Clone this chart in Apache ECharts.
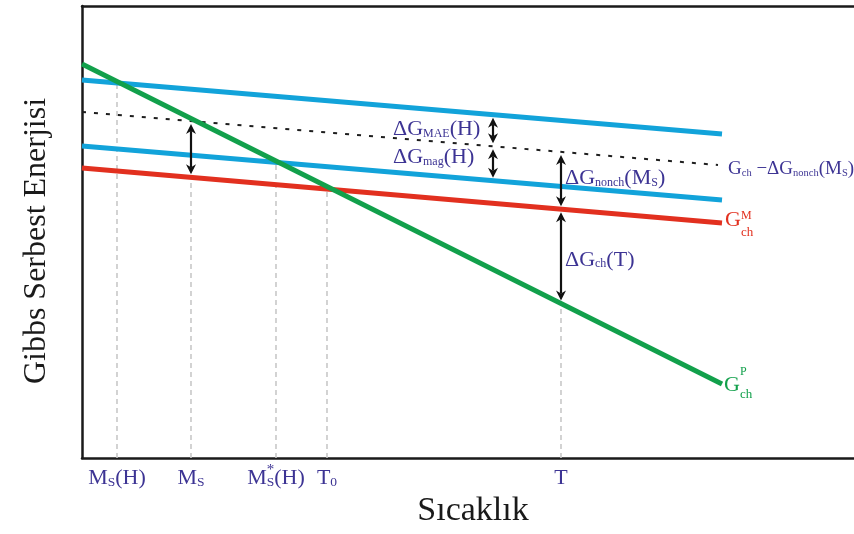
<!DOCTYPE html>
<html>
<head>
<meta charset="utf-8">
<script src="https://cdn.jsdelivr.net/npm/echarts@6/dist/echarts.min.js"></script>
<style>
  html, body { margin: 0; padding: 0; background: #ffffff; }
  #chart { width: 854px; height: 534px; }
</style>
</head>
<body>
<div id="chart"></div>
<script>
// Axis ranges (arbitrary units for temperature and Gibbs free energy)
const tempRange = [0, 772];
const energyRange = [0, 452];

// Free-energy curves, each given by its two end points [T, G]
const gMagH = [[0, 378], [640, 324]];        // G_ch − ΔG_mag(H) − ΔG_MAE(H)
const gNonch = [[0, 346], [636, 293]];       // G_ch − ΔG_nonch(M_S)
const gMag = [[0, 312], [640, 258]];         // G_ch − ΔG_mag(H)
const gMartensite = [[0, 290], [640, 235]];  // G_ch^M
const gParent = [[0, 394], [640, 74]];       // G_ch^P

// Characteristic temperatures on the T axis
const tempTicks = [35, 109, 194, 245, 479];
const tempTickLabels = ['M_{S}(H)', 'M_{S}', 'M^{*}_{S}(H)', 'T_{0}', 'T'];

// Texts (markup: _{} subscript, ^{} superscript, ^{}_{} stacked)
const axisNameT = 'Sıcaklık';
const axisNameG = 'Gibbs Serbest Enerjisi';
const labelMAE = 'ΔG_{MAE}(H)';
const labelMag = 'ΔG_{mag}(H)';
const labelNonch = 'ΔG_{nonch}(M_{S})';
const labelChT = 'ΔG_{ch}(T)';
const labelNonchCurve = 'G_{ch} −ΔG_{nonch}(M_{S})';
const labelMartensite = 'G^{M}_{ch}';
const labelParent = 'G^{P}_{ch}';

const BLUE = '#12a3da';
const RED = '#e2301f';
const GREEN = '#12a04b';
const INK = '#3d3494';
const FONT = '"Liberation Serif", "Times New Roman", serif';

function lineAt(curve, t) {
  const [[x0, y0], [x1, y1]] = curve;
  return y0 + (y1 - y0) * (t - x0) / (x1 - x0);
}

// each guide rises from the T axis up to the curve it refers to
const guideCurves = [gMagH, gMartensite, gMag, gMartensite, gParent];
const guides = tempTicks.map((t, i) => [t, lineAt(guideCurves[i], t)]);

// double arrows: [T, curve A, curve B]
const tMAE = 411;
const arrowSpans = [
  [tempTicks[1], gNonch, gMartensite],
  [tMAE, gMagH, gNonch],
  [tMAE, gNonch, gMag],
  [tempTicks[4], gNonch, gMartensite],
  [tempTicks[4], gMartensite, gParent]
];
const arrows = arrowSpans.map(([t, a, b]) => [t, lineAt(a, t), lineAt(b, t)]);

const chart = echarts.init(document.getElementById('chart'), null, { renderer: 'canvas' });

function curveSeries(name, data, color, width, type, z) {
  return {
    name, type: 'line', data, showSymbol: false, symbol: 'none', silent: true, z,
    lineStyle: { color, width, type, cap: 'butt' }, animation: false
  };
}

const frameLine = { show: true, onZero: false, lineStyle: { color: '#1a1a1a', width: 2.5 } };

const option = {
  backgroundColor: '#ffffff',
  animation: false,
  grid: { left: 82, right: 0, top: 6, bottom: 76 },
  xAxis: [
    { type: 'value', min: tempRange[0], max: tempRange[1], position: 'bottom',
      axisLine: frameLine, axisTick: { show: false }, axisLabel: { show: false }, splitLine: { show: false } },
    { type: 'value', min: tempRange[0], max: tempRange[1], position: 'top',
      axisLine: frameLine, axisTick: { show: false }, axisLabel: { show: false }, splitLine: { show: false } }
  ],
  yAxis: {
    type: 'value', min: energyRange[0], max: energyRange[1],
    axisLine: frameLine, axisTick: { show: false }, axisLabel: { show: false }, splitLine: { show: false }
  },
  series: [
    {
      type: 'custom', name: 'guides', silent: true, z: 1, data: guides,
      encode: { x: 0, y: 1 },
      renderItem(params, api) {
        const p0 = api.coord([api.value(0), 0]);
        const p1 = api.coord([api.value(0), api.value(1)]);
        return {
          type: 'line',
          shape: { x1: p0[0], y1: p0[1], x2: p1[0], y2: p1[1] },
          style: { stroke: '#c8c8c8', lineWidth: 1.6, lineDash: [5, 4] }
        };
      }
    },
    curveSeries('magH', gMagH, BLUE, 5, 'solid', 2),
    curveSeries('mag', gMag, BLUE, 5, 'solid', 2),
    curveSeries('martensite', gMartensite, RED, 5, 'solid', 3),
    curveSeries('nonch', gNonch, '#1e1e1e', 2, [4, 8], 3),
    curveSeries('parent', gParent, GREEN, 5, 'solid', 4),
    {
      type: 'custom', name: 'arrows', silent: true, z: 5, data: arrows,
      encode: { x: 0, y: [1, 2] },
      renderItem(params, api) {
        const a = api.coord([api.value(0), api.value(1)]);
        const b = api.coord([api.value(0), api.value(2)]);
        const x = a[0];
        const d = Math.sign(b[1] - a[1]) || 1;
        const inset = 3, L = 10, W = 5, N = 7;
        const tipA = a[1] + d * inset;
        const tipB = b[1] - d * inset;
        const head = (tip, dir) => ({
          type: 'polygon',
          shape: { points: [[x, tip], [x - W, tip + dir * L], [x, tip + dir * N], [x + W, tip + dir * L]] },
          style: { fill: '#111111' }
        });
        return {
          type: 'group',
          children: [
            { type: 'line', shape: { x1: x, y1: tipA + d * N, x2: x, y2: tipB - d * N },
              style: { stroke: '#111111', lineWidth: 2.2 } },
            head(tipA, d),
            head(tipB, -d)
          ]
        };
      }
    }
  ]
};

chart.setOption(option);

// ---- text with sub/superscripts, laid out piece by piece ----
const measureCtx = document.createElement('canvas').getContext('2d');
function textW(s, size) {
  measureCtx.font = size + 'px ' + FONT;
  return measureCtx.measureText(s).width;
}
function parseMarkup(s) {
  const out = [];
  const re = /\^\{([^}]*)\}_\{([^}]*)\}|_\{([^}]*)\}|\^\{([^}]*)\}|([^_^]+)/g;
  let m;
  while ((m = re.exec(s))) {
    if (m[1] !== undefined) out.push({ kind: 'stack', sup: m[1], sub: m[2] });
    else if (m[3] !== undefined) out.push({ kind: 'sub', text: m[3] });
    else if (m[4] !== undefined) out.push({ kind: 'sup', text: m[4] });
    else out.push({ kind: 'main', text: m[5] });
  }
  return out;
}
// baseline-based placement; canvas "middle" sits 0.3375em above the baseline for this face
const MID = 0.3375;
function richLabel(markup, x, baseline, st) {
  const items = [];
  let cx = 0;
  const put = (text, size, dx, dy) => items.push({ text, size, dx, dy });
  parseMarkup(markup).forEach(p => {
    if (p.kind === 'main') { put(p.text, st.size, cx, 0); cx += textW(p.text, st.size); }
    else if (p.kind === 'sub') { put(p.text, st.subSize, cx, st.subDrop); cx += textW(p.text, st.subSize); }
    else if (p.kind === 'sup') { put(p.text, st.supSize, cx, -st.supRise); cx += textW(p.text, st.supSize); }
    else {
      const ws = textW(p.sup, st.supSize), wb = textW(p.sub, st.subSize), w = Math.max(ws, wb);
      const c = st.stackAlign === 'center';
      put(p.sup, st.supSize, cx + (c ? (w - ws) / 2 : 0), -st.supRise);
      put(p.sub, st.subSize, cx + (c ? (w - wb) / 2 : 0), st.subDrop);
      cx += w;
    }
  });
  const x0 = st.anchor === 'center' ? x - cx / 2 : x;
  return items.map(it => ({
    type: 'text', silent: true, z: 10,
    x: x0 + it.dx, y: baseline + it.dy - MID * it.size,
    style: {
      text: it.text, font: it.size + 'px ' + FONT, fill: st.fill,
      textAlign: 'left', textVerticalAlign: 'middle', align: 'left', verticalAlign: 'middle'
    }
  }));
}

const px = (t, g) => chart.convertToPixel({ seriesIndex: 1 }, [t, g]);
const bottomY = px(0, 0)[1];

const deltaStyle = { size: 22, subSize: 12, supSize: 12, subDrop: 1, supRise: 8, fill: INK };
const tickStyle = { size: 22, subSize: 13.5, supSize: 15, subDrop: 1.5, supRise: 10.5, fill: INK, anchor: 'center', stackAlign: 'center' };

const graphics = [];

// temperature tick labels
tempTicks.forEach((t, i) => {
  graphics.push(...richLabel(tempTickLabels[i], px(t, 0)[0], bottomY + 28, tickStyle));
});

// labels for the double arrows
const arrowMid = k => {
  const a = px(arrows[k][0], arrows[k][1]), b = px(arrows[k][0], arrows[k][2]);
  return [a[0], (a[1] + b[1]) / 2];
};
let m = arrowMid(1);
graphics.push(...richLabel(labelMAE, m[0] - 100, m[1] + 6, deltaStyle));
m = arrowMid(2);
graphics.push(...richLabel(labelMag, m[0] - 100, m[1] + 1.5, deltaStyle));
m = arrowMid(3);
graphics.push(...richLabel(labelNonch, m[0] + 4, m[1] + 5, deltaStyle));
m = arrowMid(4);
graphics.push(...richLabel(labelChT, m[0] + 4, m[1] + 11, deltaStyle));

// curve end labels
let e = px(gNonch[1][0], gNonch[1][1]);
graphics.push(...richLabel(labelNonchCurve, e[0] + 10, e[1] + 10,
  { size: 19, subSize: 10.5, supSize: 10.5, subDrop: 1.5, supRise: 8, fill: INK }));
e = px(gMartensite[1][0], gMartensite[1][1]);
graphics.push(...richLabel(labelMartensite, e[0] + 3, e[1] + 4.5,
  { size: 22, subSize: 13, supSize: 12, subDrop: 9.5, supRise: 7.5, fill: RED }));
e = px(gParent[1][0], gParent[1][1]);
graphics.push(...richLabel(labelParent, e[0] + 2, e[1] + 9,
  { size: 22, subSize: 13, supSize: 12, subDrop: 5.5, supRise: 17, fill: GREEN }));

// axis names
graphics.push({
  type: 'text', silent: true, x: 473, y: 523 - MID * 34,
  style: { text: axisNameT, font: '34px ' + FONT, fill: '#1a1a1a',
    textAlign: 'center', textVerticalAlign: 'middle', align: 'center', verticalAlign: 'middle' }
});
graphics.push({
  type: 'text', silent: true, x: 37, y: 241, rotation: Math.PI / 2,
  style: { text: axisNameG, font: '32px ' + FONT, fill: '#1a1a1a',
    textAlign: 'center', textVerticalAlign: 'middle', align: 'center', verticalAlign: 'middle' }
});

chart.setOption({ graphic: graphics });
</script>
</body>
</html>
